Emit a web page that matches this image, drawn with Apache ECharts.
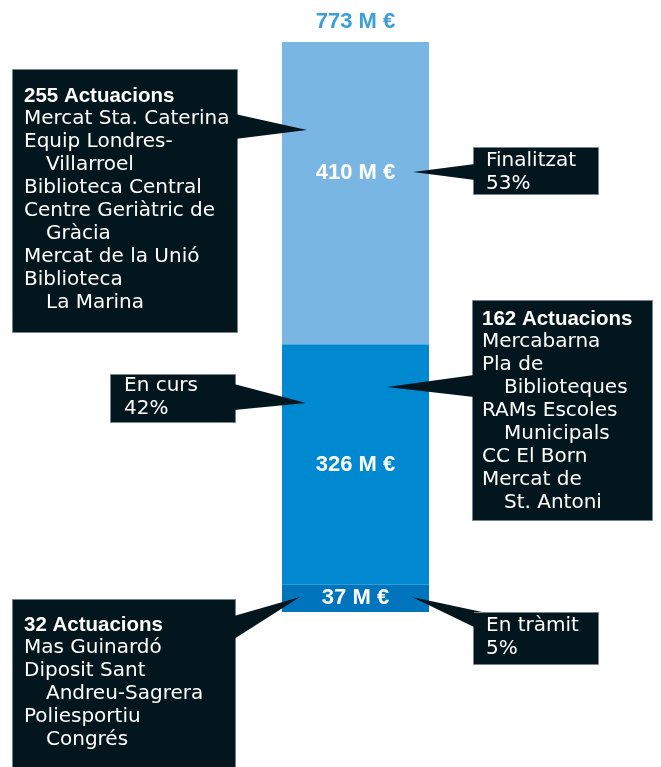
<!DOCTYPE html>
<html>
<head>
<meta charset="utf-8">
<script src="https://cdn.jsdelivr.net/npm/echarts@6/dist/echarts.min.js"></script>
<style>
  html, body { margin: 0; padding: 0; background: #fff; }
  #chart { width: 661px; height: 767px; }
</style>
</head>
<body>
<div id="chart"></div>
<script>
// data
const stages = ['En tràmit', 'En curs', 'Finalitzat'];
const amounts = [37, 326, 410];        // M €
const percents = [5, 42, 53];
const actuacions = [32, 162, 255];

// project names, '|' marks where the name wraps
const tramitProjects = ['Mas Guinardó', 'Diposit Sant|Andreu-Sagrera', 'Poliesportiu|Congrés'];
const cursProjects = ['Mercabarna', 'Pla de|Biblioteques', 'RAMs Escoles|Municipals', 'CC El Born', 'Mercat de|St. Antoni'];
const finalProjects = ['Mercat Sta. Caterina', 'Equip Londres-|Villarroel', 'Biblioteca Central',
  'Centre Geriàtric de|Gràcia', 'Mercat de la Unió', 'Biblioteca|La Marina'];

const total = amounts.reduce((a, b) => a + b, 0);
const colors = ['#0074bc', '#0089d0', '#7ab6e3'];

const BOX = '#03161e';
const BORDER = '#76868e';
const REG = '20px "DejaVu Sans"';
const BOLD = 'bold 20.5px "Liberation Sans", Arial, sans-serif';
const LH = 23;

const chart = echarts.init(document.getElementById('chart'));

const graphics = [];

function box(x, y, w, h, pointer) {
  graphics.push({
    type: 'rect', z: 100,
    shape: { x: x + 0.5, y: y + 0.5, width: w, height: h },
    style: { fill: BOX, stroke: BORDER, lineWidth: 1 }
  });
  graphics.push({
    type: 'polygon', z: 101,
    shape: { points: pointer },
    style: { fill: BOX }
  });
}

function line(x, y, text, font) {
  graphics.push({
    type: 'text', z: 102, x: x, y: y,
    style: { text: text, fill: '#ffffff', font: font, align: 'left', verticalAlign: 'middle' }
  });
}

function projectBox(lay, count, projects) {
  box(lay.x, lay.y, lay.w, lay.h, lay.pointer);
  let y = lay.ty;
  line(lay.tx, y, count + ' Actuacions', BOLD);
  projects.forEach(p => {
    p.split('|').forEach((part, i) => {
      y += LH;
      line(lay.tx + (i ? 22 : 0), y, part, REG);
    });
  });
}

function statusBox(lay, name, pct) {
  box(lay.x, lay.y, lay.w, lay.h, lay.pointer);
  line(lay.tx, lay.ty, name, REG);
  line(lay.tx, lay.ty + LH, pct + '%', REG);
}

projectBox({ x: 12, y: 69, w: 225, h: 263, tx: 24, ty: 96,
  pointer: [[235, 114], [307, 130], [235, 139]] }, actuacions[2], finalProjects);
statusBox({ x: 473, y: 147, w: 125, h: 47, tx: 486, ty: 161,
  pointer: [[475, 164], [413, 172], [475, 180]] }, stages[2], percents[2]);
projectBox({ x: 472, y: 300, w: 180, h: 220, tx: 482, ty: 319,
  pointer: [[474, 375], [387, 387], [474, 397]] }, actuacions[1], cursProjects);
statusBox({ x: 110, y: 374, w: 125, h: 48, tx: 124, ty: 386,
  pointer: [[234, 384], [306, 403], [234, 410]] }, stages[1], percents[1]);
projectBox({ x: 12, y: 599, w: 223, h: 180, tx: 24, ty: 625,
  pointer: [[234, 616], [300, 597], [234, 639]] }, actuacions[0], tramitProjects);
statusBox({ x: 473, y: 612, w: 125, h: 52, tx: 486, ty: 626,
  pointer: [[412, 597], [482, 612], [474, 612], [474, 627]] }, stages[0], percents[0]);

const valueLabel = {
  show: true,
  position: 'inside',
  color: '#ffffff',
  fontFamily: '"Liberation Sans", Arial, sans-serif',
  fontWeight: 'bold',
  fontSize: 22,
  formatter: '{c} M €'
};

chart.setOption({
  animation: false,
  grid: { left: 282, right: 232, top: 42, bottom: 155 },
  xAxis: { type: 'category', data: ['total'], show: false },
  yAxis: { type: 'value', min: 0, max: total, show: false },
  series: stages.map((s, i) => ({
    name: s,
    type: 'bar',
    stack: 'total',
    barWidth: '100%',
    data: [amounts[i]],
    itemStyle: { color: colors[i] },
    label: i === 2 ? Object.assign({}, valueLabel, { offset: [0, -20] }) : valueLabel
  })).concat([{
    type: 'scatter',
    symbolSize: 0,
    data: [[0, total]],
    label: {
      show: true,
      position: 'top',
      distance: 9,
      color: '#0a86cc',
      fontFamily: '"Liberation Sans", Arial, sans-serif',
      fontWeight: 'bold',
      fontSize: 22,
      formatter: total + ' M €'
    }
  }]),
  graphic: graphics
});
</script>
</body>
</html>
